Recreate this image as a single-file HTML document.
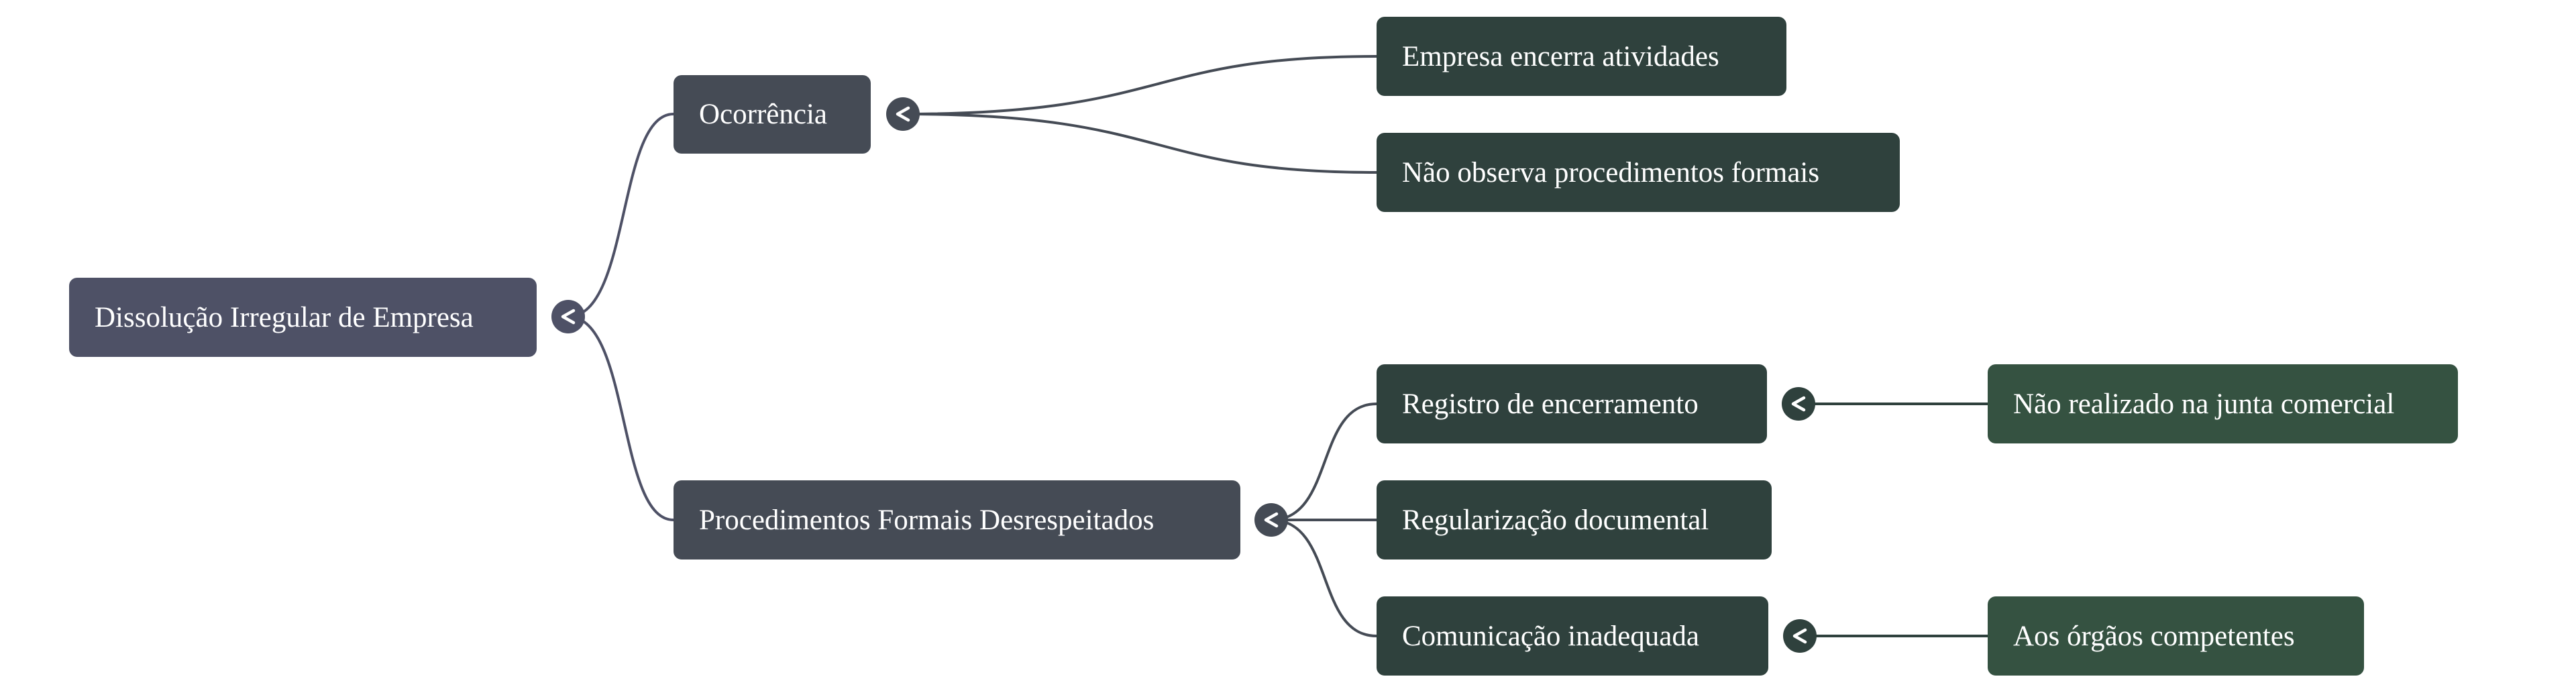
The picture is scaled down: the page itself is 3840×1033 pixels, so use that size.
<!DOCTYPE html>
<html><head><meta charset="utf-8"><style>
html,body{margin:0;padding:0;background:#fff;width:3840px;height:1033px;overflow:hidden}
svg{display:block}
text{font-family:"Liberation Serif",serif;font-size:43px;fill:#fff}
</style></head><body>
<svg width="3840" height="1033" viewBox="0 0 3840 1033">
<g transform="translate(0,-3)">
<g fill="none" stroke-width="4">
<path d="M847,475 C940,475 920,173 1004,173" stroke="#4e5166"/>
<path d="M847,475 C940,475 920,778 1004,778" stroke="#4e5166"/>
<path d="M1346,173 C1750,173 1700,87 2052,87" stroke="#454b55"/>
<path d="M1346,173 C1750,173 1700,260 2052,260" stroke="#454b55"/>
<path d="M1895,778 C1990,778 1960,605 2052,605" stroke="#454b55"/>
<path d="M1895,778 L2052,778" stroke="#454b55"/>
<path d="M1895,778 C1990,778 1960,951 2052,951" stroke="#454b55"/>
<path d="M2681,605 L2963,605" stroke="#2f413d"/>
<path d="M2683,951 L2963,951" stroke="#2f413d"/>
</g>
<rect x="103" y="417" width="697" height="118" rx="12" fill="#4e5166"/>
<text x="141" y="490">Dissolução Irregular de Empresa</text>
<rect x="1004" y="115" width="294" height="117" rx="12" fill="#454b55"/>
<text x="1042" y="187">Ocorrência</text>
<rect x="1004" y="719" width="845" height="118" rx="12" fill="#454b55"/>
<text x="1042" y="792">Procedimentos Formais Desrespeitados</text>
<rect x="2052" y="28" width="611" height="118" rx="12" fill="#2f413d"/>
<text x="2090" y="101">Empresa encerra atividades</text>
<rect x="2052" y="201" width="780" height="118" rx="12" fill="#2f413d"/>
<text x="2090" y="274">Não observa procedimentos formais</text>
<rect x="2052" y="546" width="582" height="118" rx="12" fill="#2f413d"/>
<text x="2090" y="619">Registro de encerramento</text>
<rect x="2052" y="719" width="589" height="118" rx="12" fill="#2f413d"/>
<text x="2090" y="792">Regularização documental</text>
<rect x="2052" y="892" width="584" height="118" rx="12" fill="#2f413d"/>
<text x="2090" y="965">Comunicação inadequada</text>
<rect x="2963" y="546" width="701" height="118" rx="12" fill="#355241"/>
<text x="3001" y="619">Não realizado na junta comercial</text>
<rect x="2963" y="892" width="561" height="118" rx="12" fill="#355241"/>
<text x="3001" y="965">Aos órgãos competentes</text>
<g stroke="#fff" stroke-width="4.5" fill="none" stroke-linecap="round" stroke-linejoin="round">
<circle cx="847" cy="475" r="25" fill="#4e5166" stroke="none"/>
<path d="M855,466 L839,475 L855,484"/>
<circle cx="1346" cy="173" r="25" fill="#454b55" stroke="none"/>
<path d="M1354,164 L1338,173 L1354,182"/>
<circle cx="1895" cy="778" r="25" fill="#454b55" stroke="none"/>
<path d="M1903,769 L1887,778 L1903,787"/>
<circle cx="2681" cy="605" r="25" fill="#2f413d" stroke="none"/>
<path d="M2689,596 L2673,605 L2689,614"/>
<circle cx="2683" cy="951" r="25" fill="#2f413d" stroke="none"/>
<path d="M2691,942 L2675,951 L2691,960"/>
</g>
</g>
</svg>
</body></html>
